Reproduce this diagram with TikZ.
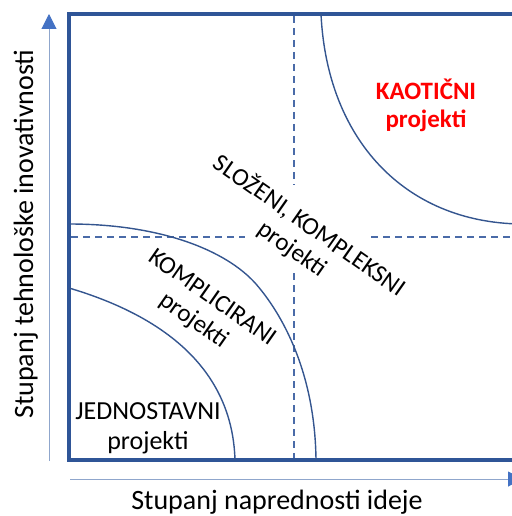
\documentclass[tikz,border=0pt]{standalone}
\usepackage{fontspec}
\setmainfont{Carlito}
\usetikzlibrary{arrows.meta}
\definecolor{boxblue}{HTML}{2F5597}
\definecolor{curveblue}{HTML}{34558F}
\definecolor{dashblue}{HTML}{4A6BA8}
\definecolor{axisline}{HTML}{8FA6CC}
\definecolor{tipblue}{HTML}{4472C4}
\definecolor{chaosred}{HTML}{FF0000}
\tikzset{
  lbl/.style={font=\fontsize{26bp}{30bp}\selectfont, inner sep=0pt},
  rotlbl/.style={font=\fontsize{25bp}{30bp}\selectfont, inner sep=0pt, rotate=-35},
  axislbl/.style={font=\fontsize{28bp}{32bp}\selectfont, inner sep=0pt},
  redlbl/.style={font=\fontsize{25bp}{30bp}\selectfont\bfseries, text=chaosred, inner sep=0pt},
  frame/.style={draw=boxblue, line width=4bp},
  bound/.style={draw=curveblue, line width=1.4bp},
  divider/.style={draw=dashblue, line width=1.3bp, dash pattern=on 7bp off 5bp},
  axis/.style={draw=axisline, line width=1bp, -{Triangle[width=15bp,length=15bp,color=tipblue]}}
}
\begin{document}
\begin{tikzpicture}[x=1bp,y=-1bp]
\useasboundingbox (0,0) rectangle (512,516);
\clip (0,0) rectangle (512,516);

% axes
\coordinate (yb) at (49,461);
\coordinate (yt) at (49,14);
\coordinate (xl) at (70,479);
\coordinate (xr) at (523,479);
\draw[axis] (yb) -- (yt);
\draw[axis] (xl) -- (xr);

% frame
\draw[frame] (540,14.5) -- (69,14.5) -- (69,460) -- (540,460);

% dashed dividers
\draw[divider] (294,16) -- (294,185);
\draw[divider] (294,273) -- (294,458);
\draw[divider] (71,237) -- (245,237);
\draw[divider] (371,237) -- (515,237);

% boundary curves
\draw[bound] (69,288) .. controls (150,312) and (232,360) .. (235,460);
\draw[bound] (69,224) .. controls (160,224) and (226,250) .. (256,284)
                      .. controls (282,314) and (315,372) .. (316,460);
\draw[bound] (321,14) .. controls (327,140) and (405,222) .. (520,224);

% labels
\node[axislbl, anchor=base] (xlab) at (277,509.5) {Stupanj naprednosti ideje};
\node[axislbl, anchor=base, rotate=90] (ylab) at (33,234) {Stupanj tehnološke inovativnosti};

\node[lbl, anchor=base] (j1) at (148,419) {JEDNOSTAVNI};
\node[lbl, anchor=base] (j2) at (148,449) {projekti};

\node[redlbl, anchor=base] (k1) at (426,100) {KAOTIČNI};
\node[redlbl, anchor=base] (k2) at (426,128) {projekti};

\node[rotlbl] (s1) at (310,225) {SLOŽENI, KOMPLEKSNI};
\node[rotlbl] (s2) at (292,250) {projekti};

\node[rotlbl] (m1) at (213,297) {KOMPLICIRANI};
\node[rotlbl] (m2) at (194,321) {projekti};
\end{tikzpicture}
\end{document}
